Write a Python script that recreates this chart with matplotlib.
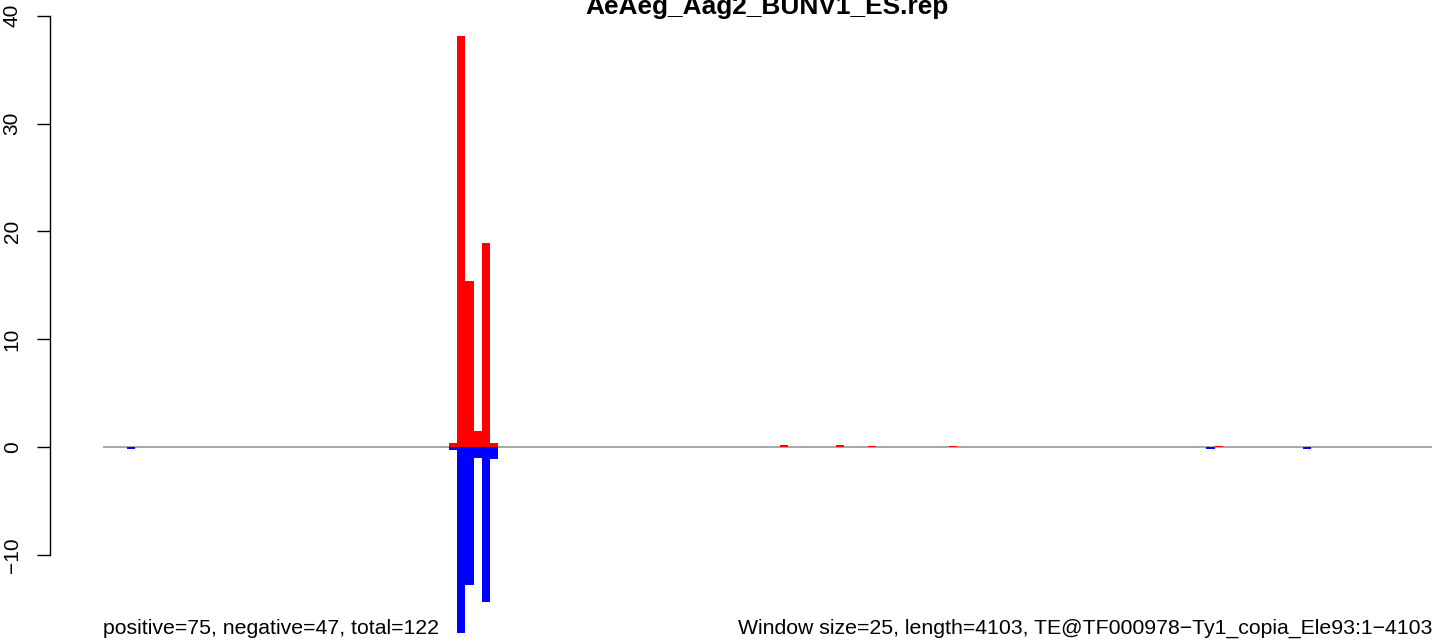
import numpy as np
import matplotlib
matplotlib.use("Agg")
import matplotlib.pyplot as plt

plt.rcParams['font.family'] = ['Liberation Sans', 'DejaVu Sans']

# window start positions (bp) and read counts per strand
window_size = 25
seq_length = 4125
pos_start = [1075, 1100, 1125, 1150, 1175, 1200, 2100, 2275, 2375, 2625, 3450]
pos_count = [0.35, 38.1, 15.4, 1.5, 18.9, 0.37, 0.2, 0.2, 0.1, 0.1, 0.1]
neg_start = [75, 1075, 1100, 1125, 1150, 1175, 1200, 3425, 3725]
neg_count = [-0.2, -0.3, -17.3, -12.8, -1.0, -14.4, -1.1, -0.2, -0.2]
yticks = [-10, 0, 10, 20, 30, 40]

title = "AeAeg_Aag2_BUNV1_ES.rep"
left_note = "positive=75, negative=47, total=122"
right_note = "Window size=25, length=4103, TE@TF000978\u2212Ty1_copia_Ele93:1\u22124103"

W, H = 1444, 641
fig = plt.figure(figsize=(W / 100, H / 100), dpi=100)
ax = fig.add_axes([103 / W, 0, (1432 - 103) / W, 1])

px_per_unit = 10.78
ax.set_xlim(0, seq_length)
ax.set_ylim(-(H - 447) / px_per_unit, 447 / px_per_unit)

ax.axhline(0, color='#999999', lw=1.2, zorder=1)
ax.bar(pos_start, pos_count, width=window_size, align='edge', color='red', lw=0, zorder=2)
ax.bar(neg_start, neg_count, width=window_size, align='edge', color='blue', lw=0, zorder=2)

for s in ['top', 'right', 'bottom']:
    ax.spines[s].set_visible(False)
ax.spines['left'].set_position(('outward', 53 * 0.72))
ax.spines['left'].set_bounds(-10, 40)
ax.spines['left'].set_linewidth(1.0)
ax.set_xticks([])
ax.set_yticks(yticks)
ax.tick_params(axis='y', length=9.4, width=1.0, pad=11, labelsize=15)
for lab in ax.get_yticklabels():
    lab.set_rotation(90)
    lab.set_va('center')

ax.text(0.5, 1 - 14 / H, title, transform=ax.transAxes, ha='center', va='baseline',
        fontsize=18.9, fontweight='bold')
ybase = -(634 - 447) / px_per_unit
ax.text(0, ybase, left_note, ha='left', va='baseline', fontsize=15.3)
ax.text(seq_length, ybase, right_note, ha='right', va='baseline', fontsize=15.3)

fig.savefig("out.png", dpi=100)
